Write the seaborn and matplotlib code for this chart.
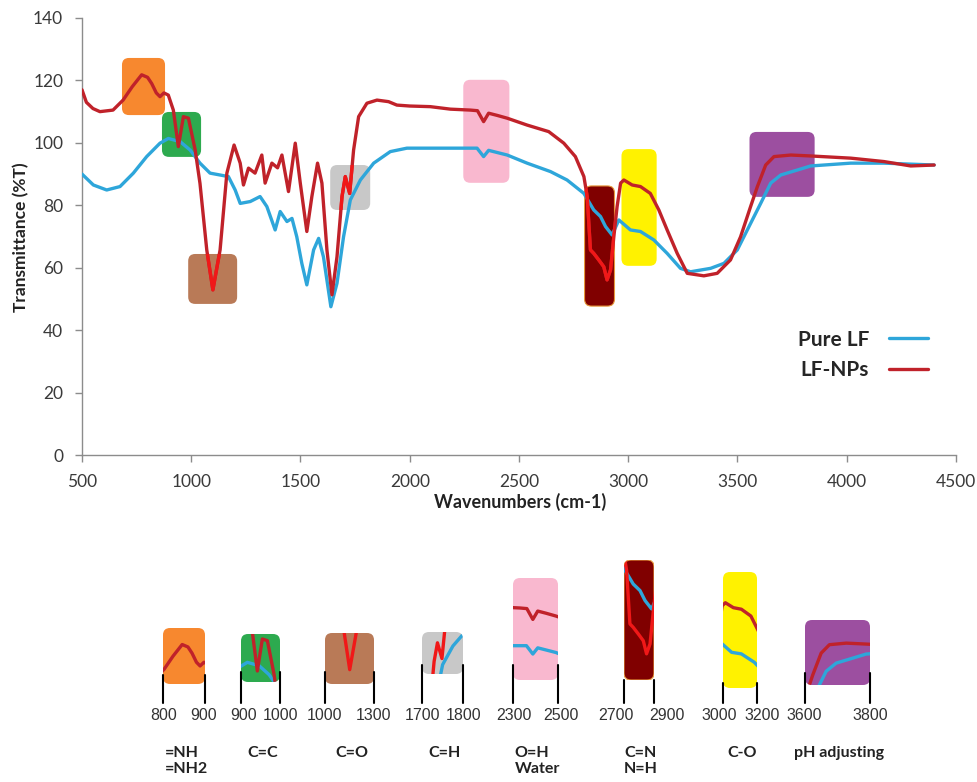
import numpy as np
import matplotlib.pyplot as plt
import matplotlib.transforms as mtransforms
from matplotlib.patches import FancyBboxPatch
import seaborn as sns

# ====================== 光谱数据 ======================
# Pure LF（蓝线）
pure_wn = [500, 552, 613, 674, 735, 796, 857, 895, 949, 995, 1040, 1086, 1132, 1170,
           1201, 1224, 1270, 1315, 1346, 1384, 1407, 1438, 1461, 1483, 1506, 1529, 1560,
           1583, 1605, 1639, 1667, 1697, 1728, 1774, 1835, 1911, 1987, 2170, 2308, 2338,
           2361, 2446, 2537, 2644, 2720, 2797, 2842, 2873, 2896, 2926, 2957, 3010, 3056,
           3117, 3178, 3239, 3285, 3377, 3438, 3499, 3560, 3606, 3652, 3698, 3774, 3835,
           4018, 4171, 4400]
pure_t = [90, 86.5, 84.9, 86, 90.3, 95.6, 99.9, 101.4, 100.4, 97.7, 93.5, 90.3, 89.7, 89.2,
          84.9, 80.6, 81.2, 82.8, 79.6, 72.1, 78, 74.8, 75.8, 69.9, 61.4, 54.5, 65.7,
          69.4, 63.5, 47.5, 55, 69.9, 81.7, 88.1, 93.5, 97.2, 98.3, 98.3, 98.3, 95.6,
          97.6, 96.1, 93.5, 90.8, 88.1, 83.8, 78.5, 76.4, 73.2, 70.5, 75.3, 72.1, 71.6,
          68.9, 64.6, 59.8, 58.7, 59.8, 61.4, 65.7, 74.2, 80.6, 87.1, 89.7, 91.3, 92.6,
          93.5, 93.5, 92.9]

# LF-NPs（红线）
np_wn = [500, 520, 550, 582, 642, 688, 730, 773, 800, 819, 840, 857, 875, 895, 918, 941,
         964, 987, 1018, 1040, 1071, 1099, 1132, 1163, 1196, 1224, 1239, 1262, 1292, 1323,
         1338, 1369, 1395, 1415, 1445, 1476, 1499, 1529, 1552, 1578, 1598, 1621, 1644,
         1667, 1690, 1705, 1725, 1743, 1766, 1804, 1850, 1903, 1941, 2000, 2094, 2186,
         2277, 2310, 2338, 2361, 2400, 2446, 2537, 2636, 2705, 2758, 2797, 2812, 2827,
         2842, 2865, 2888, 2903, 2919, 2934, 2949, 2965, 2980, 3018, 3056, 3101, 3140,
         3178, 3224, 3270, 3346, 3407, 3468, 3514, 3560, 3591, 3629, 3667, 3744, 3835,
         4018, 4171, 4293, 4400]
np_t = [117, 113, 111, 110, 110.5, 113.7, 118, 121.8, 121, 119, 116, 114.8, 116, 115.3,
        110.5, 98.8, 108.4, 107.9, 97.7, 87, 65.7, 52.9, 65.7, 90.3, 99.3, 93.5, 86.5,
        91.9, 90.3, 96.1, 87.1, 93.5, 92, 96.1, 84.4, 99.9, 87.1, 71.6, 82.8, 93.5, 87.1,
        65.7, 51.3, 63.5, 82.8, 89.2, 83.8, 97.7, 108.4, 112.7, 113.7, 113.2, 112.1,
        111.8, 111.6, 110.8, 110.5, 110.3, 106.8, 109.5, 108.8, 107.9, 105.7, 103.6, 99.9,
        95.6, 89.2, 82.8, 65.7, 64.6, 62.5, 60.3, 56.1, 59.3, 69.9, 79.6, 87.1, 88.1,
        86.5, 86, 83.8, 78.5, 72.1, 64.6, 58.2, 57.4, 58.2, 62.5, 69.9, 79.6, 86, 92.9,
        95.6, 96.1, 95.8, 95.1, 94, 92.6, 92.9]

# 高亮区域（波数范围、透过率范围）
box_x0 = [683, 866, 986, 1636, 2245, 2800, 2969, 3555]
box_x1 = [880, 1045, 1210, 1819, 2456, 2937, 3130, 3853]
box_y0 = [108.9, 95.5, 48.4, 78.5, 87.2, 47.7, 60.6, 82.7]
box_y1 = [127.2, 109.9, 64.4, 92.9, 120.2, 86.2, 98.0, 103.5]
box_c = ['#F7882F', '#2DAA4F', '#B97A57', '#C8C8C8', '#F9B8CF', '#800000', '#FFF200', '#9C4FA0']

# 下方放大图的标注
range_lo = ['800', '900', '1000', '1700', '2300', '2700', '3000', '3600']
range_hi = ['900', '1000', '1300', '1800', '2500', '2900', '3200', '3800']
groups = ['=NH\n=NH2', 'C=C', 'C=O', 'C=H', 'O=H\nWater', 'C=N\nN=H', 'C-O', 'pH adjusting']

# ====================== 画图 ======================
sns.set_theme(style="white")
plt.rcParams['font.family'] = ['Lato', 'DejaVu Sans']

W, H = 978, 782
fig = plt.figure(figsize=(W / 100, H / 100), dpi=100)


def px_rect(l, t, r, b):
    # 像素坐标 -> figure 坐标
    return [l / W, 1 - b / H, (r - l) / W, (b - t) / H]


BLUE = '#2EA6DA'
RED = '#C0222A'
BRIGHT = '#F01818'   # 框里面的红线更亮
GRID = '#8C8C8C'
bright_boxes = [2, 3, 5]

ax = fig.add_axes(px_rect(82, 18, 956, 455))
sns.lineplot(x=pure_wn, y=pure_t, color=BLUE, lw=2.4, label='Pure LF', ax=ax,
             estimator=None, zorder=3)
sns.lineplot(x=np_wn, y=np_t, color=RED, lw=2.4, label='LF-NPs', ax=ax,
             estimator=None, zorder=4)

# 主图里的彩色圆角框
ax_w, ax_h = 874, 437
asp = (140 / ax_h) / (4000 / ax_w)
rx = 7 * 4000 / ax_w
for i in range(len(box_c)):
    p = FancyBboxPatch((box_x0[i], box_y0[i]), box_x1[i] - box_x0[i],
                       box_y1[i] - box_y0[i],
                       boxstyle=f"round,pad=0,rounding_size={rx}",
                       mutation_aspect=asp, fc=box_c[i],
                       ec='#E89A3C' if i == 5 else 'none', lw=0.8, zorder=1)
    ax.add_patch(p)
    if i in bright_boxes:
        ln, = ax.plot(np_wn, np_t, color=BRIGHT, lw=2.4, zorder=5)
        ln.set_clip_path(p)

ax.set_xlim(500, 4500)
ax.set_ylim(0, 140)
ax.set_xticks(range(500, 4501, 500))
ax.set_yticks(range(0, 141, 20))
sns.despine(ax=ax)
for s in ['left', 'bottom']:
    ax.spines[s].set_color(GRID)
    ax.spines[s].set_linewidth(1)
ax.tick_params(bottom=True, left=True, direction='out', length=5, width=1,
               color=GRID, labelsize=12.5, labelcolor='#3A3A3A', pad=8.5)
ax.set_xlabel('')
ax.set_ylabel('')

fig.text(520 / W, 1 - 502 / H, 'Wavenumbers (cm-1)', ha='center', va='center',
         fontsize=13, fontweight='bold', color='#222222')
fig.text(21 / W, 1 - 237 / H, 'Transmittance (%T)', ha='center', va='center',
         rotation=90, fontsize=12.5, fontweight='bold', color='#222222')

ax.legend(loc='center right', bbox_to_anchor=((938 - 82) / ax_w, (455 - 355) / ax_h),
          frameon=False, markerfirst=False, prop={'weight': 'bold', 'size': 15},
          handlelength=1.85, handletextpad=0.95, labelspacing=0.5, borderpad=0)

# 下方的放大小图
inset_px = [(163, 628, 205, 684), (241, 634, 280, 682), (325, 633, 374, 684),
            (422, 632, 463, 674), (513, 578, 558, 680), (624, 560, 654, 680),
            (723, 572, 757, 688), (805, 620, 870, 685)]
line_top = [675, 672, 672, 665, 665, 680, 683, 673]
lo_px = [164, 244, 325, 423, 514, 616, 719, 804]
hi_px = [204, 281, 374, 464, 561, 667, 762, 870]

for i, (l, t, r, b) in enumerate(inset_px):
    iax = fig.add_axes(px_rect(l, t, r, b))
    iax.set_axis_off()
    wpx, hpx = r - l, b - t
    patch = FancyBboxPatch((0, 0), 1, 1, boxstyle=f"round,pad=0,rounding_size={7 / wpx}",
                           mutation_aspect=wpx / hpx, transform=iax.transAxes,
                           fc=box_c[i], ec='#E89A3C' if i == 5 else 'none', lw=0.8, zorder=1)
    iax.add_patch(patch)
    sns.lineplot(x=pure_wn, y=pure_t, color=BLUE, lw=2.4, ax=iax, estimator=None,
                 legend=False, zorder=3)
    sns.lineplot(x=np_wn, y=np_t, color=BRIGHT if i in bright_boxes else RED, lw=2.4,
                 ax=iax, estimator=None, legend=False, zorder=4)
    for ln in iax.get_lines():
        ln.set_clip_path(patch)
    iax.set_xlim(box_x0[i], box_x1[i])
    iax.set_ylim(box_y0[i], box_y1[i])

    tr = mtransforms.blended_transform_factory(iax.transAxes, fig.transFigure)
    for xa in (0, 1):
        iax.plot([xa, xa], [1 - line_top[i] / H, 1 - 703 / H], transform=tr,
                 color='black', lw=1.5, clip_on=False, zorder=5)

    fig.text(lo_px[i] / W, 1 - 716 / H, range_lo[i], ha='center', va='center',
             fontsize=11.5, color='#333333', family='Liberation Sans')
    fig.text(hi_px[i] / W, 1 - 716 / H, range_hi[i], ha='center', va='center',
             fontsize=11.5, color='#333333', family='Liberation Sans')
    fig.text((l + r) / 2 / W + 2 / W, 1 - 746 / H, groups[i], ha='center', va='top',
             ma='left', fontsize=11.5, fontweight='bold', color='#222222', linespacing=1.2)

fig.savefig('out.png', dpi=100)
